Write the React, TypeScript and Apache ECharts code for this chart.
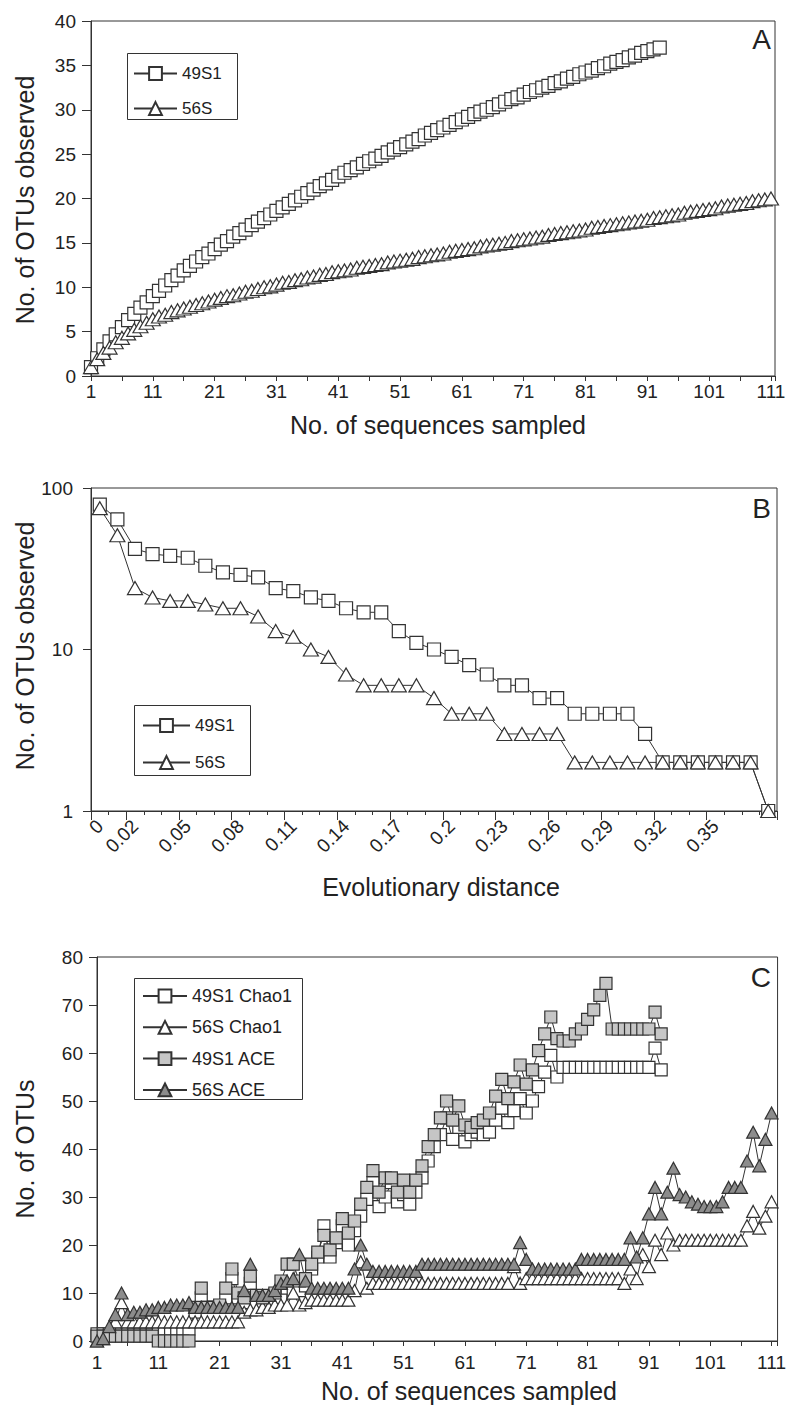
import { useEffect, useRef } from 'react';
import * as echarts from 'echarts';

const FONT = "'Liberation Sans', Arial, Helvetica, sans-serif";
const INK = '#222';
const LINE = '#333';

// ---------- Panel A: observed OTUs vs sequences sampled ----------
const rarefaction49S1 = [
  1.0, 2.0, 3.0, 3.9, 4.7, 5.5, 6.3, 7.0, 7.7, 8.3, 9.0,
  9.6, 10.2, 10.8, 11.3, 11.9, 12.4, 12.9, 13.4, 13.8, 14.3,
  14.8, 15.2, 15.7, 16.1, 16.5, 17.0, 17.4, 17.8, 18.2, 18.6,
  19.0, 19.4, 19.8, 20.2, 20.6, 21.0, 21.4, 21.7, 22.1, 22.5,
  22.9, 23.2, 23.5, 23.9, 24.2, 24.5, 24.8, 25.2, 25.5, 25.8,
  26.1, 26.4, 26.7, 27.1, 27.4, 27.7, 28.0, 28.3, 28.6, 28.9,
  29.2, 29.5, 29.8, 30.0, 30.3, 30.6, 30.9, 31.2, 31.4, 31.7,
  32.0, 32.2, 32.5, 32.7, 33.0, 33.2, 33.5, 33.7, 34.0, 34.2,
  34.4, 34.7, 34.9, 35.2, 35.4, 35.6, 35.9, 36.1, 36.4, 36.6,
  36.8, 37.0,
];
const rarefaction56S = [
  1.0, 1.9, 2.6, 3.2, 3.8, 4.3, 4.8, 5.2, 5.6, 6.0, 6.4,
  6.7, 6.9, 7.2, 7.4, 7.6, 7.8, 8.0, 8.2, 8.4, 8.6,
  8.8, 9.0, 9.1, 9.3, 9.5, 9.6, 9.8, 10.0, 10.1, 10.3,
  10.5, 10.6, 10.8, 10.9, 11.1, 11.2, 11.4, 11.5, 11.7, 11.8,
  11.9, 12.0, 12.2, 12.3, 12.4, 12.5, 12.6, 12.8, 12.9, 13.0,
  13.1, 13.2, 13.4, 13.5, 13.6, 13.7, 13.8, 14.0, 14.1, 14.2,
  14.3, 14.4, 14.6, 14.7, 14.8, 14.9, 15.0, 15.2, 15.3, 15.4,
  15.5, 15.6, 15.7, 15.9, 16.0, 16.1, 16.2, 16.3, 16.4, 16.5,
  16.7, 16.8, 16.9, 17.0, 17.1, 17.2, 17.3, 17.4, 17.5, 17.6,
  17.8, 17.9, 18.0, 18.1, 18.2, 18.4, 18.5, 18.6, 18.7, 18.8,
  18.9, 19.1, 19.2, 19.3, 19.4, 19.5, 19.7, 19.8, 19.9, 20.0,
];
const sampledTickLabels = [1, 11, 21, 31, 41, 51, 61, 71, 81, 91, 101, 111];

// ---------- Panel B: OTUs vs evolutionary distance ----------
const distanceCategories = [
  '0', '0.01', '0.02', '0.03', '0.04', '0.05', '0.06', '0.07', '0.08', '0.09',
  '0.1', '0.11', '0.12', '0.13', '0.14', '0.15', '0.16', '0.17', '0.18', '0.19',
  '0.2', '0.21', '0.22', '0.23', '0.24', '0.25', '0.26', '0.27', '0.28', '0.29',
  '0.3', '0.31', '0.32', '0.33', '0.34', '0.35', '0.36', '0.37', '0.38',
];
const distanceLabelIndex = [0, 2, 5, 8, 11, 14, 17, 20, 23, 26, 29, 32, 35];
const otus49S1 = [
  79, 64, 42, 39, 38, 37, 33, 30, 29, 28, 24, 23, 21, 20, 18, 17, 17, 13, 11, 10,
  9, 8, 7, 6, 6, 5, 5, 4, 4, 4, 4, 3, 2, 2, 2, 2, 2, 2, 1,
];
const otus56S = [
  75, 51, 24, 21, 20, 20, 19, 18, 18, 16, 13, 12, 10, 9, 7, 6, 6, 6, 6, 5,
  4, 4, 4, 3, 3, 3, 3, 2, 2, 2, 2, 2, 2, 2, 2, 2, 2, 2, 1,
];

// ---------- Panel C: richness estimators ----------
const chao49S1 = [
  1.5, 1.5, 1.5, 1.5, 1.5, 1.5, 1.5, 1.5, 1.5, 1.5,
  2.5, 2.5, 2.5, 2.5, 2.5, 2.5,
  6, 9, 7, 7, 7, 9, 13, 9, 8, 12, 8, 7, 7.5, 8,
  9, 11, 10, 10.5, 11.5, 15, 17.5, 24, 17.5, 20.5,
  24, 20, 23, 26, 29.5, 33, 28, 30, 33, 29,
  30.5, 28.5, 31, 34, 37.5, 40.5, 43, 46.5, 42, 44.5,
  41.5, 43, 43.5, 43, 43.5, 46, 48.5, 45.5, 48, 50.5,
  47.5, 50, 53, 56, 59.5, 55, 57, 57, 57, 57,
  57, 57, 57, 57, 57, 57, 57, 57, 57, 57,
  57, 61, 56.5,
];
const ace49S1 = [
  1, 1, 1, 1, 1, 1, 1, 1, 1, 1,
  0, 0, 0, 0, 0, 0,
  7, 11, 7, 7, 7.5, 11, 15, 10, 9, 13.5, 9.5, 9, 9.5, 10,
  12.5, 16, 16, 12.5, 13, 16, 18.5, 22, 19, 21.5,
  25.5, 22.5, 25, 28.5, 32, 35.5, 31, 34, 34, 31,
  33.5, 31, 33.5, 36.5, 40.5, 43, 46.5, 50, 46, 49,
  45, 44.5, 45.5, 46, 47.5, 51, 54.5, 50.5, 54, 57.5,
  53.5, 56.5, 60.5, 64, 67.5, 63, 62.5, 62.5, 64, 65,
  67, 69, 72, 74.5, 65, 65, 65, 65, 65, 65,
  65, 68.5, 64,
];
const chao56S = [
  0, 0.5, 2.5, 4, 8, 4,
  4, 4, 4, 4, 4, 4, 4, 4, 4, 4, 4, 4, 4, 4, 4, 4, 4, 4,
  6, 6.5, 6.5, 7, 7, 7.5, 7.5, 7.5, 10, 7.5, 8,
  8.5, 8.5, 8.5, 8.5, 8.5, 8.5, 8.5,
  10.5, 16.5, 11,
  12, 12, 12, 12, 12, 12, 12, 12, 12, 12, 12, 12, 12, 12, 12, 12, 12, 12, 12, 12, 12, 12, 12,
  15.5, 12,
  13, 13, 13, 13, 13, 13, 13, 13, 13, 13, 13, 13, 13, 13, 13, 13,
  12, 15, 13, 18, 15.5, 21, 18, 22.5, 20,
  21, 21, 21, 21, 21, 21, 21, 21, 21, 21, 21,
  24, 27, 23.5, 26, 29,
];
const ace56S = [
  0, 0.5, 3, 5.5, 10, 5.5, 6, 6, 6.5, 6.5, 7, 7, 7.5, 7.5, 7.5, 8,
  7, 7, 7, 7, 7, 7, 7, 7,
  10.5, 16, 9.5, 9.5, 9.5, 10.5, 12, 12.5, 13, 18, 12.5,
  11, 11, 11, 11, 11, 11, 11,
  15, 20, 16,
  14.5, 14.5, 14.5, 14.5, 14.5, 14.5, 14.5, 14.5,
  16, 16, 16, 16, 16, 16, 16, 16, 16, 16, 16, 16, 16, 16, 16,
  16, 20.5, 17,
  15, 15, 15, 15, 15, 15, 15, 15,
  17, 17, 17, 17, 17, 17, 17,
  17, 21.5, 17.5, 21.5, 26.5, 32, 26.5, 31, 36, 30.5,
  30, 29, 28.5, 28, 28, 28, 29, 32, 32, 32,
  37.5, 43.5, 36.5, 42, 47.5,
];

const toXY = (arr: number[]) => arr.map((v, i) => [i + 1, v]);

const mkSeries = (
  name: string, data: any[], xi: number, yi: number,
  symbol: string, size: any, fill: string, z = 2,
) => ({
  type: 'line', name, data, xAxisIndex: xi, yAxisIndex: yi,
  symbol, symbolSize: size, showSymbol: true, showAllSymbol: true,
  lineStyle: { color: LINE, width: 1 },
  itemStyle: { color: fill, borderColor: LINE, borderWidth: 1.2 },
  emphasis: { disabled: true }, z, silent: true,
});

const labelStyle = { color: INK, fontFamily: FONT, fontSize: 19 };
const axisLine = { show: true, lineStyle: { color: LINE, width: 1 } };
const tickStyle = { color: LINE, width: 1 };

const txt = (text: string, x: number, y: number, size: number, rot = 0, align = 'center') => ({
  type: 'text', x, y, rotation: rot, silent: true, z: 10,
  style: {
    text, fill: INK, font: `${size}px ${FONT}`,
    textAlign: align, textVerticalAlign: 'middle', align, verticalAlign: 'middle',
  },
});
const frame = (x: number, y: number, w: number, h: number) => ({
  type: 'rect', silent: true, z: 3,
  shape: { x: x + 0.5, y: y + 0.5, width: w, height: h },
  style: { fill: '#fff', stroke: LINE, lineWidth: 1 },
});

export default function App() {
  const ref = useRef<HTMLDivElement>(null);
  useEffect(() => {
    if (!ref.current) return;
    const chart = echarts.init(ref.current, null, { renderer: 'svg' });
    const legendText = (fs: number) => ({ fontFamily: FONT, fontSize: fs, color: INK, lineHeight: 16 });
    const option: any = {
      animation: false,
      backgroundColor: '#fff',
      grid: [
        { left: 91, top: 21, width: 684, height: 355, show: true, borderColor: LINE, borderWidth: 1 },
        { left: 91, top: 488, width: 686, height: 323, show: true, borderColor: LINE, borderWidth: 1 },
        { left: 97, top: 957, width: 681, height: 384, show: true, borderColor: LINE, borderWidth: 1 },
      ],
      xAxis: [
        {
          gridIndex: 0, type: 'value', min: 1, max: 111.65, interval: 5,
          axisLine, axisTick: { show: true, length: 5, lineStyle: tickStyle },
          axisLabel: { ...labelStyle, margin: 6, formatter: (v: number) => (sampledTickLabels.includes(v) ? String(v) : '') },
          splitLine: { show: false },
        },
        {
          gridIndex: 1, type: 'category', data: distanceCategories, boundaryGap: true,
          axisLine, axisTick: { show: true, length: 4, interval: 0, lineStyle: tickStyle },
          axisLabel: { ...labelStyle, rotate: 45, margin: 12, interval: (i: number) => distanceLabelIndex.includes(i) },
          splitLine: { show: false },
        },
        {
          gridIndex: 1, type: 'category', data: distanceCategories, boundaryGap: true, position: 'bottom',
          axisLine: { show: false },
          axisTick: { show: true, length: 9, interval: (i: number) => distanceLabelIndex.includes(i), lineStyle: tickStyle },
          axisLabel: { show: false }, splitLine: { show: false },
        },
        {
          gridIndex: 2, type: 'value', min: 1, max: 111.98, interval: 5,
          axisLine, axisTick: { show: true, length: 5, lineStyle: tickStyle },
          axisLabel: { ...labelStyle, margin: 12, formatter: (v: number) => (sampledTickLabels.includes(v) ? String(v) : '') },
          splitLine: { show: false },
        },
      ],
      yAxis: [
        {
          gridIndex: 0, type: 'value', min: 0, max: 40, interval: 5,
          axisLine, axisTick: { show: true, length: 9, lineStyle: tickStyle },
          axisLabel: { ...labelStyle, margin: 15 }, splitLine: { show: false },
        },
        {
          gridIndex: 1, type: 'log', logBase: 10, min: 1, max: 100,
          axisLine, axisTick: { show: true, length: 8, lineStyle: tickStyle },
          axisLabel: { ...labelStyle, margin: 18, formatter: (v: number) => String(Math.round(v)) },
          splitLine: { show: false }, minorTick: { show: false },
        },
        {
          gridIndex: 2, type: 'value', min: 0, max: 80, interval: 10,
          axisLine, axisTick: { show: true, length: 8, lineStyle: tickStyle },
          axisLabel: { ...labelStyle, margin: 14 }, splitLine: { show: false },
        },
      ],
      legend: [
        {
          orient: 'vertical', left: 133, top: 65, itemWidth: 43, itemHeight: 16, itemGap: 18, padding: 0,
          data: ['49S1', '56S'], textStyle: legendText(17), selectedMode: false, z: 5,
        },
        {
          orient: 'vertical', left: 142, top: 717, itemWidth: 47, itemHeight: 16, itemGap: 20, padding: 0,
          data: ['49S1', '56S'], textStyle: legendText(17), selectedMode: false, z: 5,
        },
        {
          orient: 'vertical', left: 142, top: 987, itemWidth: 44, itemHeight: 16, itemGap: 13.3, padding: 0,
          data: ['49S1 Chao1', '56S Chao1', '49S1 ACE', '56S ACE'], textStyle: legendText(18), selectedMode: false, z: 5,
        },
      ],
      series: [
        mkSeries('49S1', toXY(rarefaction49S1), 0, 0, 'rect', 13, '#fff'),
        mkSeries('56S', toXY(rarefaction56S), 0, 0, 'triangle', [15, 13], '#fff'),
        mkSeries('49S1', otus49S1, 1, 1, 'rect', 13, '#fff'),
        mkSeries('56S', otus56S, 1, 1, 'triangle', [15, 13], '#fff'),
        mkSeries('49S1 Chao1', toXY(chao49S1), 3, 2, 'rect', 12, '#fff'),
        mkSeries('56S Chao1', toXY(chao56S), 3, 2, 'triangle', [13, 12], '#fff'),
        mkSeries('49S1 ACE', toXY(ace49S1), 3, 2, 'rect', 12, '#c6c6c6'),
        mkSeries('56S ACE', toXY(ace56S), 3, 2, 'triangle', [13, 12], '#8c8c8c'),
      ],
      graphic: [
        frame(127, 53, 110, 66),
        frame(134, 705, 116, 70),
        frame(134, 978, 168, 121),
        txt('No. of sequences sampled', 438, 425, 25),
        txt('No. of OTUs observed', 25, 200, 25, Math.PI / 2),
        txt('Evolutionary distance', 441, 887, 25),
        txt('No. of OTUs observed', 25, 646, 25, Math.PI / 2),
        txt('No. of sequences sampled', 469, 1391, 25),
        txt('No. of OTUs', 25, 1149, 25, Math.PI / 2),
        txt('A', 771, 39, 28, 0, 'right'),
        txt('B', 771, 508, 28, 0, 'right'),
        txt('C', 771, 977, 28, 0, 'right'),
      ],
    };
    chart.setOption(option);
    return () => chart.dispose();
  }, []);
  return (
    <div
      ref={ref}
      style={{ position: 'fixed', left: 0, top: 0, width: 789, height: 1407, background: '#fff' }}
    />
  );
}
